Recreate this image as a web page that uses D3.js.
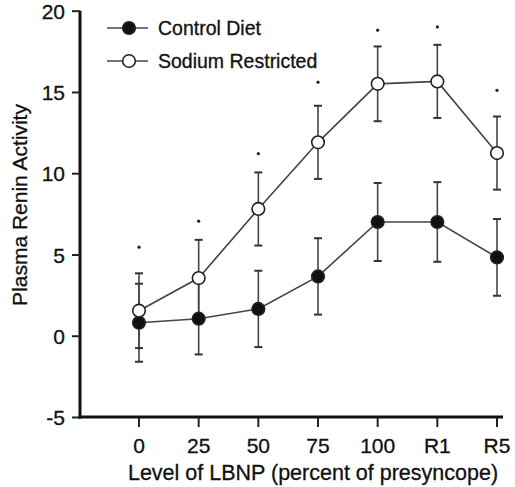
<!DOCTYPE html>
<html>
<head>
<meta charset="utf-8">
<script src="https://cdn.jsdelivr.net/npm/d3@7"></script>
<style>
  body { margin: 0; background: #fff; }
  text { font-family: "Liberation Sans", Arial, sans-serif; fill: #111; stroke: #111; stroke-width: 0.3px; }
</style>
</head>
<body>
<div class="chart"></div>
<script>
// data
let levels = ["0", "25", "50", "75", "100", "R1", "R5"];
let controlMean = [0.8, 1.05, 1.65, 3.65, 7.0, 7.0, 4.82];
let controlErr = [2.4, 2.2, 2.35, 2.35, 2.4, 2.45, 2.36];
let sodiumMean = [1.54, 3.55, 7.8, 11.9, 15.5, 15.65, 11.24];
let sodiumErr = [2.3, 2.35, 2.25, 2.25, 2.3, 2.25, 2.25];
let starLevel = [5.45, 7.05, 11.2, 15.6, 18.8, 19.0, 15.1];
let yTicks = [-5, 0, 5, 10, 15, 20];

let width = 515, height = 487;
let svg = d3.select(".chart").append("svg").attr("width", width).attr("height", height);

// scales
let x = d3.scalePoint().domain(levels).range([139, 497]);
let y = d3.scaleLinear().domain([-5, 20]).range([417, 10.7]);

// axes
let yAxis = svg.append("g")
  .attr("transform", "translate(80,0)")
  .call(d3.axisLeft(y).tickValues(yTicks).tickSize(8).tickPadding(7).tickFormat(d => String(d)));
yAxis.select(".domain").attr("stroke", "#111").attr("stroke-width", 3).attr("d", "M0," + y(20) + "V" + (y(-5) + 1.5));
yAxis.selectAll(".tick line").attr("stroke", "#222").attr("stroke-width", 2);
yAxis.selectAll("text").style("font-size", "21px").attr("dy", "0.36em");

let xAxis = svg.append("g")
  .attr("transform", "translate(0," + y(-5) + ")");
xAxis.append("line")
  .attr("x1", 78.5).attr("x2", 503)
  .attr("stroke", "#111").attr("stroke-width", 3);
xAxis.selectAll(".xt")
  .data(levels)
  .enter()
  .append("line")
  .attr("x1", d => x(d)).attr("x2", d => x(d))
  .attr("y1", 1).attr("y2", 10)
  .attr("stroke", "#222").attr("stroke-width", 2);
xAxis.selectAll(".xl")
  .data(levels)
  .enter()
  .append("text")
  .attr("x", d => x(d))
  .attr("y", 36)
  .attr("text-anchor", "middle")
  .style("font-size", "21px")
  .text(d => d);

// axis titles
svg.append("text")
  .attr("x", 313).attr("y", 480)
  .attr("text-anchor", "middle")
  .style("font-size", "21.5px")
  .text("Level of LBNP (percent of presyncope)");
svg.append("text")
  .attr("transform", "translate(27,205) rotate(-90)")
  .attr("text-anchor", "middle")
  .style("font-size", "21px")
  .text("Plasma Renin Activity");

let series = [
  { name: "Control Diet", mean: controlMean, err: controlErr, fill: "#111" },
  { name: "Sodium Restricted", mean: sodiumMean, err: sodiumErr, fill: "#fff" }
];

let line = d3.line().x((d, i) => x(levels[i])).y(d => y(d));

series.forEach(s => {
  let g = svg.append("g");
  // error bars
  levels.forEach((lv, i) => {
    let cx = x(lv);
    let top = y(s.mean[i] + s.err[i]), bot = y(s.mean[i] - s.err[i]);
    g.append("line").attr("x1", cx).attr("x2", cx).attr("y1", top).attr("y2", bot)
      .attr("stroke", "#444").attr("stroke-width", 1.6);
    [top, bot].forEach(yy => {
      g.append("line").attr("x1", cx - 4).attr("x2", cx + 4).attr("y1", yy).attr("y2", yy)
        .attr("stroke", "#333").attr("stroke-width", 2);
    });
  });
  g.append("path")
    .attr("d", line(s.mean))
    .attr("fill", "none")
    .attr("stroke", "#444")
    .attr("stroke-width", 1.6);
});

series.forEach(s => {
  svg.append("g")
    .selectAll("circle")
    .data(s.mean)
    .enter()
    .append("circle")
    .attr("cx", (d, i) => x(levels[i]))
    .attr("cy", d => y(d))
    .attr("r", 6.3)
    .attr("fill", s.fill)
    .attr("stroke", "#222")
    .attr("stroke-width", 1.6);
});

// significance marks
svg.append("g")
  .selectAll("circle")
  .data(starLevel)
  .enter()
  .append("circle")
  .attr("cx", (d, i) => x(levels[i]))
  .attr("cy", d => y(d))
  .attr("r", 1.6)
  .attr("fill", "#222");

// legend
let legend = svg.append("g");
series.forEach((s, i) => {
  let ly = 28 + i * 33;
  legend.append("line").attr("x1", 107).attr("x2", 148).attr("y1", ly).attr("y2", ly)
    .attr("stroke", "#444").attr("stroke-width", 1.6);
  legend.append("circle").attr("cx", 129).attr("cy", ly).attr("r", 6.3)
    .attr("fill", s.fill).attr("stroke", "#222").attr("stroke-width", 1.6);
  legend.append("text").attr("x", 158).attr("y", ly).attr("dy", "0.35em")
    .style("font-size", "19.5px").text(s.name);
});
</script>
</body>
</html>
